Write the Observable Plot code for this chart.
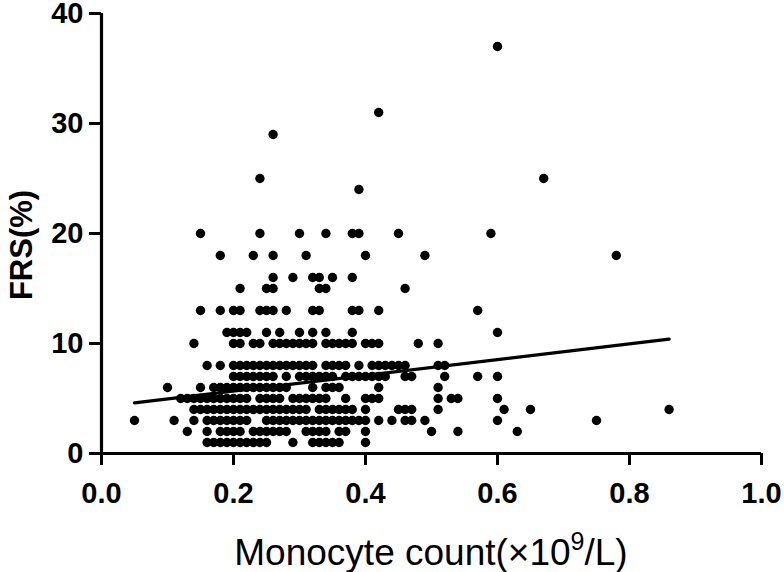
<!DOCTYPE html>
<html>
<head>
<meta charset="utf-8">
<script src="https://cdn.jsdelivr.net/npm/d3@7"></script>
<script src="https://cdn.jsdelivr.net/npm/@observablehq/plot@0.6"></script>
<style>
  html, body { margin: 0; padding: 0; background: #ffffff; }
  #chart { width: 784px; height: 572px; }
</style>
</head>
<body>
<div id="chart"></div>
<script>
// FRS levels (y) and the monocyte counts (x) read at each level
const frsLevels = [37, 31, 29, 25, 24, 20, 18, 16, 15, 13, 11, 10, 8, 7, 6, 5, 4, 3, 2, 1];
const monocyteByLevel = [
  [0.60],
  [0.42],
  [0.26],
  [0.24, 0.67],
  [0.39],
  [0.15, 0.24, 0.30, 0.34, 0.38, 0.39, 0.45, 0.59],
  [0.18, 0.23, 0.26, 0.31, 0.40, 0.49, 0.78],
  [0.26, 0.29, 0.32, 0.33, 0.35, 0.38],
  [0.21, 0.25, 0.26, 0.33, 0.34, 0.46],
  [0.15, 0.18, 0.20, 0.21, 0.24, 0.25, 0.26, 0.28, 0.32, 0.33, 0.38, 0.39, 0.42, 0.57],
  [0.19, 0.20, 0.21, 0.22, 0.25, 0.27, 0.30, 0.32, 0.34, 0.38, 0.60],
  [0.14, 0.20, 0.21, 0.23, 0.24, 0.26, 0.27, 0.28, 0.29, 0.30, 0.31, 0.32, 0.34, 0.35, 0.36, 0.37, 0.38, 0.40, 0.41, 0.42, 0.48, 0.51],
  [0.16, 0.18, 0.20, 0.21, 0.22, 0.23, 0.24, 0.25, 0.26, 0.27, 0.28, 0.29, 0.30, 0.31, 0.32, 0.34, 0.35, 0.36, 0.37, 0.39, 0.41, 0.42, 0.43, 0.44, 0.45, 0.46, 0.51, 0.52],
  [0.20, 0.21, 0.22, 0.23, 0.24, 0.25, 0.26, 0.28, 0.30, 0.31, 0.32, 0.33, 0.34, 0.35, 0.37, 0.38, 0.39, 0.40, 0.41, 0.42, 0.43, 0.46, 0.47, 0.52, 0.57, 0.60],
  [0.10, 0.15, 0.17, 0.18, 0.19, 0.20, 0.21, 0.22, 0.23, 0.24, 0.25, 0.26, 0.27, 0.28, 0.32, 0.34, 0.35, 0.36, 0.42, 0.51],
  [0.12, 0.13, 0.14, 0.15, 0.16, 0.17, 0.18, 0.19, 0.20, 0.21, 0.22, 0.24, 0.25, 0.26, 0.27, 0.29, 0.30, 0.31, 0.32, 0.33, 0.34, 0.37, 0.40, 0.41, 0.42, 0.51, 0.53, 0.54, 0.60],
  [0.14, 0.15, 0.16, 0.17, 0.18, 0.19, 0.20, 0.21, 0.22, 0.23, 0.24, 0.25, 0.26, 0.27, 0.28, 0.29, 0.30, 0.31, 0.33, 0.34, 0.35, 0.36, 0.37, 0.38, 0.40, 0.45, 0.46, 0.47, 0.51, 0.61, 0.65, 0.86],
  [0.05, 0.11, 0.14, 0.16, 0.17, 0.18, 0.19, 0.20, 0.21, 0.22, 0.25, 0.26, 0.27, 0.28, 0.29, 0.30, 0.31, 0.32, 0.33, 0.34, 0.35, 0.36, 0.37, 0.38, 0.39, 0.40, 0.42, 0.44, 0.46, 0.47, 0.49, 0.60, 0.75],
  [0.13, 0.16, 0.18, 0.19, 0.20, 0.21, 0.23, 0.24, 0.25, 0.26, 0.27, 0.28, 0.31, 0.32, 0.33, 0.34, 0.36, 0.37, 0.40, 0.50, 0.54, 0.63],
  [0.16, 0.17, 0.18, 0.19, 0.20, 0.21, 0.22, 0.23, 0.24, 0.25, 0.29, 0.32, 0.33, 0.34, 0.35, 0.36, 0.40]
];

// Linear fit drawn in the figure
const fitRange = [0.05, 0.86];
const fitIntercept = 4.24;
const fitSlope = 7.16;

// Axis ticks
const xTicks = [0.0, 0.2, 0.4, 0.6, 0.8, 1.0];
const yTicks = [0, 10, 20, 30, 40];

const xTitle = "Monocyte count(×10";
const xTitleSup = "9";
const xTitleEnd = "/L)";
const yTitle = "FRS(%)";

const points = [];
frsLevels.forEach((frs, i) => monocyteByLevel[i].forEach(m => points.push({monocyte: m, frs})));
const fitLine = fitRange.map(m => ({monocyte: m, frs: fitIntercept + fitSlope * m}));

const font = "'Liberation Sans', Arial, Helvetica, sans-serif";

const chart = Plot.plot({
  width: 784,
  height: 572,
  marginLeft: 101,
  marginRight: 23,
  marginTop: 13,
  marginBottom: 119,
  style: {fontFamily: font, background: "#ffffff", color: "#000000", overflow: "visible"},
  x: {domain: [0, 1]},
  y: {domain: [0, 40]},
  marks: [
    Plot.axisX({ticks: xTicks, tickFormat: d3.format(".1f"), tickSize: 12, tickPadding: 17,
      fontSize: 29, fontWeight: "bold", strokeWidth: 3, label: null, stroke: "#000", fill: "#000"}),
    Plot.axisY({ticks: yTicks, tickSize: 12, tickPadding: 6,
      fontSize: 29, fontWeight: "bold", strokeWidth: 3, label: null, stroke: "#000", fill: "#000"}),
    Plot.ruleX([0], {stroke: "#000", strokeWidth: 3.2}),
    Plot.ruleY([0], {stroke: "#000", strokeWidth: 3.2}),
    Plot.dot(points, {x: "monocyte", y: "frs", r: 4.7, fill: "#000", stroke: null}),
    Plot.line(fitLine, {x: "monocyte", y: "frs", stroke: "#000", strokeWidth: 3.3})
  ]
});

const svg = d3.select(chart);
// x axis title with superscript
const xt = svg.append("text")
  .attr("x", 431).attr("y", 565)
  .attr("text-anchor", "middle")
  .attr("font-family", "'Liberation Sans Narrow', 'Liberation Sans', Arial, sans-serif")
  .attr("font-size", 37)
  .attr("fill", "#000");
xt.append("tspan").text(xTitle);
xt.append("tspan").attr("font-size", 25).attr("dy", -15).text(xTitleSup);
xt.append("tspan").attr("dy", 15).text(xTitleEnd);

// y axis title
svg.append("text")
  .attr("transform", "translate(32,245) rotate(-90)")
  .attr("text-anchor", "middle")
  .attr("font-family", font)
  .attr("font-weight", "bold")
  .attr("font-size", 31)
  .attr("fill", "#000")
  .text(yTitle);

document.getElementById("chart").appendChild(chart);
</script>
</body>
</html>
